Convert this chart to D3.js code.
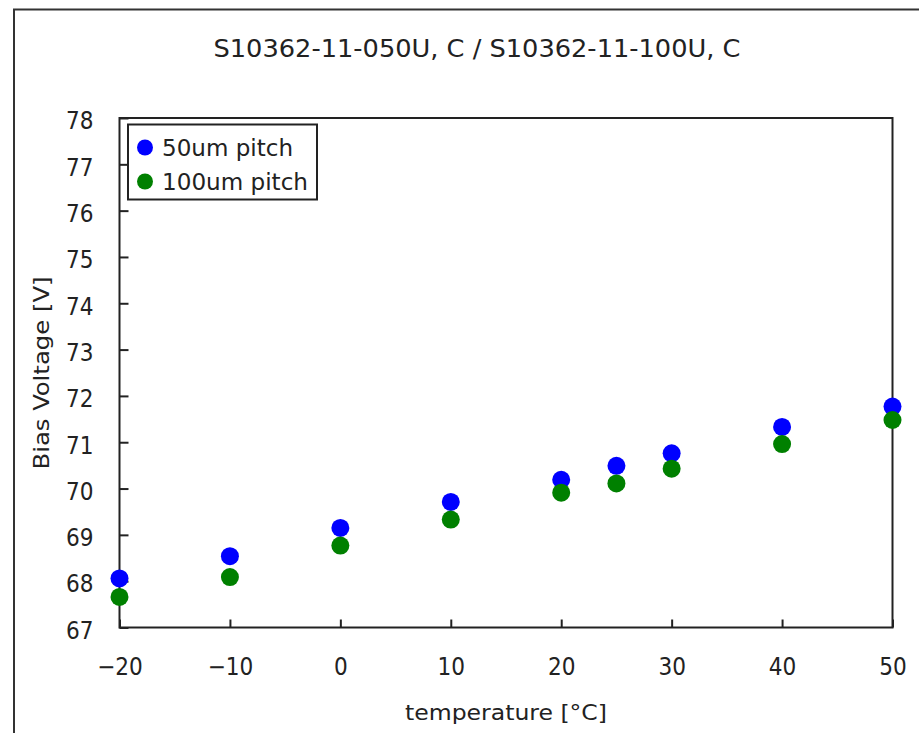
<!DOCTYPE html>
<html><head><meta charset="utf-8">
<script src="https://cdn.jsdelivr.net/npm/d3@7"></script>
<style>body{margin:0;background:#fff}svg{display:block}text{font-family:"Liberation Sans Narrow","DejaVu Sans Condensed","Liberation Sans",sans-serif;fill:#222}</style>
</head><body><svg id="c" width="919" height="733"></svg>
<script>
const temperatures = [-20, -10, 0, 10, 20, 25, 30, 40, 50];
const pitch50 = [68.06, 68.54, 69.15, 69.71, 70.19, 70.49, 70.76, 71.33, 71.77];
const pitch100 = [67.66, 68.09, 68.77, 69.33, 69.91, 70.11, 70.43, 70.96, 71.48];
const seriesNames = ["50um pitch", "100um pitch"];
const xTicks = [-20, -10, 0, 10, 20, 30, 40, 50];
const yTicks = [67, 68, 69, 70, 71, 72, 73, 74, 75, 76, 77, 78];
const title = "S10362-11-050U, C / S10362-11-100U, C";

const svg = d3.select("#c");
const L = 119.5, R = 892.5, T = 118, B = 627.5;
const x = d3.scaleLinear().domain([-20, 50]).range([L, R]);
const y = d3.scaleLinear().domain([67, 78]).range([B, T]);

// outer frame
svg.append("rect").attr("x", 14).attr("y", 9.5).attr("width", 940).attr("height", 760)
  .attr("fill", "none").attr("stroke", "#333").attr("stroke-width", 2);

// title
svg.append("text").attr("x", 477).attr("y", 57).attr("text-anchor", "middle")
  .attr("font-size", 25).attr("textLength", 527).attr("lengthAdjust", "spacingAndGlyphs").text(title);

// plot frame
svg.append("rect").attr("x", L).attr("y", T).attr("width", R - L).attr("height", B - T)
  .attr("fill", "none").attr("stroke", "#222").attr("stroke-width", 2);

// x axis
const xa = svg.append("g").attr("transform", `translate(0,${B})`)
  .call(d3.axisBottom(x).tickValues(xTicks).tickSize(-8).tickPadding(30).tickFormat(d => d < 0 ? "\u2212" + Math.abs(d) : d));
xa.select(".domain").remove();
xa.selectAll("line").attr("stroke", "#222").attr("stroke-width", 2);
xa.selectAll("text").attr("font-size", 24).attr("fill", "#222").attr("font-family", null);

// y axis
const ya = svg.append("g").attr("transform", `translate(${L},0)`)
  .call(d3.axisLeft(y).tickValues(yTicks).tickSize(-9).tickPadding(26));
ya.select(".domain").remove();
ya.selectAll("line").attr("stroke", "#222").attr("stroke-width", 2);
ya.selectAll("text").attr("font-size", 24).attr("fill", "#222").attr("font-family", null).attr("dy", "0.45em");

// axis titles
svg.append("text").attr("x", 506).attr("y", 720).attr("text-anchor", "middle")
  .attr("font-size", 22).attr("textLength", 202).attr("lengthAdjust", "spacingAndGlyphs").text("temperature [\u00B0C]");
svg.append("text").attr("transform", "translate(49,373) rotate(-90)").attr("text-anchor", "middle")
  .attr("font-size", 22).attr("textLength", 193).attr("lengthAdjust", "spacingAndGlyphs").text("Bias Voltage [V]");

// points
const colors = ["#0000ff", "#008000"];
[pitch50, pitch100].forEach((vals, i) => {
  svg.append("g").selectAll("circle").data(temperatures.map((t, j) => [t, vals[j]])).join("circle")
    .attr("cx", d => x(d[0])).attr("cy", d => y(d[1])).attr("r", 9).attr("fill", colors[i]);
});

// legend
const lg = svg.append("g");
lg.append("rect").attr("x", 128).attr("y", 124.5).attr("width", 189).attr("height", 75)
  .attr("fill", "#fff").attr("stroke", "#222").attr("stroke-width", 2);
const lw = [131, 146];
seriesNames.forEach((n, i) => {
  const cy = 147.5 + i * 34;
  lg.append("circle").attr("cx", 145).attr("cy", cy).attr("r", 8).attr("fill", colors[i]);
  lg.append("text").attr("x", 162).attr("y", cy + 8).attr("font-size", 23)
    .attr("textLength", lw[i]).attr("lengthAdjust", "spacingAndGlyphs").text(n);
});
</script></body></html>
